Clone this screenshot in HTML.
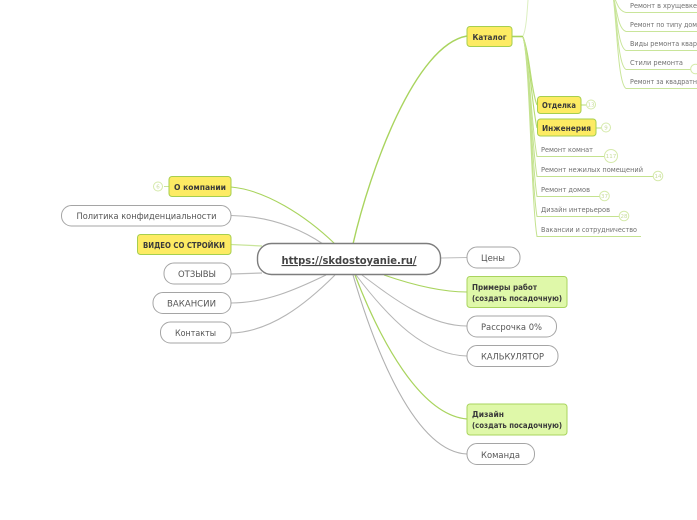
<!DOCTYPE html>
<html><head><meta charset="utf-8"><style>
html,body{margin:0;padding:0;background:#fff}
svg{display:block}
text{font-family:"DejaVu Sans","Liberation Sans",sans-serif;fill:#444}
.w{fill:#fff;stroke:#a5a5a5;stroke-width:1}
.y{fill:#fdeb63;stroke:#a6cf4e;stroke-width:1}
.g{fill:#dff8a9;stroke:#a9d45e;stroke-width:1}
.n{font-size:8.6px;fill:#555}
.b{font-size:8px;font-weight:bold;fill:#3a3a3a}
.s{font-size:7px;fill:#707070}
.c{fill:#fff;stroke:#d5eaaa;stroke-width:1}
.ct{font-size:5.5px;fill:#c8dc9c;text-anchor:middle}
</style></head><body>
<svg width="697" height="520" viewBox="0 0 697 520" xmlns="http://www.w3.org/2000/svg">
<g fill="none">
<!-- green main -->
<path d="M353 244C370 170 415 45 467 36" stroke="#a9d45e" stroke-width="1.4"/>
<path d="M335 244C305 215 265 190 231 187" stroke="#a9d45e" stroke-width="1.1"/>
<path d="M262 246L231 244.500" stroke="#c9e59a" stroke-width="1.2"/>
<path d="M384 275C410 284 440 292 467 292" stroke="#a9d45e" stroke-width="1.1"/>
<path d="M355 275C380 340 420 415 467 419" stroke="#a9d45e" stroke-width="1.2"/>
<!-- grey -->
<path d="M323 244C295 225 265 216 231 215.500" stroke="#b5b5b5" stroke-width="1.1"/>
<path d="M262 273L231 274" stroke="#bdbdbd" stroke-width="1.2"/>
<path d="M326 275C295 290 265 303 231 303" stroke="#b5b5b5" stroke-width="1.1"/>
<path d="M335 275C305 305 270 332 231 333" stroke="#b5b5b5" stroke-width="1.1"/>
<path d="M441 258L467 257.500" stroke="#bdbdbd" stroke-width="1"/>
<path d="M362 275C395 300 430 326 467 326" stroke="#b5b5b5" stroke-width="1"/>
<path d="M356 275C390 320 425 355 467 356" stroke="#b5b5b5" stroke-width="1"/>
<path d="M353 275C375 350 415 452 467 454" stroke="#b0b0b0" stroke-width="1.1"/>
<!-- catalog branches -->
<path d="M512 36.500H523" stroke="#a9d45e" stroke-width="1.6"/>
<path d="M523 36C526 30 527 15 528 0" stroke="#dcefc0" stroke-width="1"/>
<path d="M523 37C530 55 531 90 537 105" stroke="#b6dc74" stroke-width="1.1"/>
<path d="M523 37C530 55 531 100 537 128" stroke="#b6dc74" stroke-width="1.1"/>
<path d="M523 37C530 60 531 125 537 156.500H604" stroke="#c4e28f" stroke-width="1"/>
<path d="M523 37C530 60 531 140 537 176.500H653" stroke="#c4e28f" stroke-width="1"/>
<path d="M523 37C530 60 531 160 537 196.500H600" stroke="#c4e28f" stroke-width="1"/>
<path d="M523 37C530 60 531 180 537 216.500H619" stroke="#c4e28f" stroke-width="1"/>
<path d="M523 37C530 60 531 200 537 236.500H641" stroke="#c4e28f" stroke-width="1"/>
<!-- upper right branches -->
<path d="M613 -5C617 2 618 11 626 12.500H697" stroke="#c9e59a"/>
<path d="M613 -5C617 10 618 29 626 31.500H697" stroke="#c9e59a"/>
<path d="M613 -5C617 15 618 47 626 50.500H697" stroke="#c9e59a"/>
<path d="M613 -5C617 20 618 65 626 69.500H691" stroke="#c9e59a"/>
<path d="M613 -5C617 25 618 84 626 88.500H697" stroke="#c9e59a"/>
<path d="M581 105H586M596 128H601" stroke="#b6dc74"/>
<path d="M164 186.500H169" stroke="#c9e59a"/>
</g>
<!-- center -->
<rect x="257.500" y="243.500" width="183" height="31" rx="14" fill="#fff" stroke="#7d7d7d" stroke-width="1.4"/>
<text x="349" y="264" text-anchor="middle" textLength="135" lengthAdjust="spacingAndGlyphs" style="font-size:11px;font-weight:bold;text-decoration:underline;fill:#444">https://skdostoyanie.ru/</text>
<!-- left -->
<rect class="y" x="169" y="176.500" width="62" height="20" rx="3"/>
<text class="b" x="174" y="190" textLength="52" lengthAdjust="spacingAndGlyphs">О компании</text>
<circle class="c" cx="158" cy="186.500" r="4.500"/><text class="ct" x="158" y="188.500">6</text>
<rect class="w" x="61.500" y="205.500" width="169.500" height="20.500" rx="10"/>
<text class="n" x="76.500" y="219" textLength="140" lengthAdjust="spacingAndGlyphs">Политика конфиденциальности</text>
<rect class="y" x="137.500" y="234.500" width="93.500" height="20" rx="3"/>
<text class="b" x="143" y="248" textLength="82" lengthAdjust="spacingAndGlyphs">ВИДЕО СО СТРОЙКИ</text>
<rect class="w" x="164" y="263" width="67" height="21" rx="10"/>
<text class="n" x="178" y="277" textLength="38" lengthAdjust="spacingAndGlyphs">ОТЗЫВЫ</text>
<rect class="w" x="153" y="292.500" width="78" height="21" rx="10"/>
<text class="n" x="167" y="306.500" textLength="49" lengthAdjust="spacingAndGlyphs">ВАКАНСИИ</text>
<rect class="w" x="160.500" y="322" width="70.500" height="21" rx="10"/>
<text class="n" x="175" y="336" textLength="41" lengthAdjust="spacingAndGlyphs">Контакты</text>
<!-- right -->
<rect class="w" x="467" y="247" width="53" height="21" rx="10"/>
<text class="n" x="481" y="261" textLength="24" lengthAdjust="spacingAndGlyphs">Цены</text>
<rect class="g" x="467" y="276.500" width="100" height="31" rx="3"/>
<text class="b" x="472" y="290" textLength="65" lengthAdjust="spacingAndGlyphs">Примеры работ</text>
<text class="b" x="472" y="301" textLength="90" lengthAdjust="spacingAndGlyphs">(создать посадочную)</text>
<rect class="w" x="467" y="316" width="89.500" height="21" rx="10"/>
<text class="n" x="481" y="330" textLength="61" lengthAdjust="spacingAndGlyphs">Рассрочка 0%</text>
<rect class="w" x="467" y="345.500" width="91" height="21" rx="10"/>
<text class="n" x="481" y="359.500" textLength="63" lengthAdjust="spacingAndGlyphs">КАЛЬКУЛЯТОР</text>
<rect class="g" x="467" y="404" width="100" height="31" rx="3"/>
<text class="b" x="472" y="417" textLength="32" lengthAdjust="spacingAndGlyphs">Дизайн</text>
<text class="b" x="472" y="428" textLength="90" lengthAdjust="spacingAndGlyphs">(создать посадочную)</text>
<rect class="w" x="467" y="443.500" width="67.500" height="21" rx="10"/>
<text class="n" x="481" y="458" textLength="39" lengthAdjust="spacingAndGlyphs">Команда</text>
<!-- catalog -->
<rect class="y" x="467" y="26.500" width="45" height="20" rx="3"/>
<text class="b" x="472.500" y="40" textLength="34" lengthAdjust="spacingAndGlyphs">Каталог</text>
<rect class="y" x="537.500" y="96.500" width="43.500" height="17" rx="3"/>
<text class="b" x="542" y="108" textLength="34" lengthAdjust="spacingAndGlyphs">Отделка</text>
<circle class="c" cx="591" cy="104.500" r="4.500"/><text class="ct" x="591" y="106.500">13</text>
<rect class="y" x="537.500" y="119" width="58.500" height="17" rx="3"/>
<text class="b" x="542" y="131" textLength="49" lengthAdjust="spacingAndGlyphs">Инженерия</text>
<circle class="c" cx="606" cy="127.500" r="4.500"/><text class="ct" x="606" y="129.500">9</text>
<text class="s" x="541" y="152" textLength="52" lengthAdjust="spacingAndGlyphs">Ремонт комнат</text>
<circle class="c" cx="611" cy="156" r="6.500"/><text class="ct" x="611" y="158">117</text>
<text class="s" x="541" y="172" textLength="102" lengthAdjust="spacingAndGlyphs">Ремонт нежилых помещений</text>
<circle class="c" cx="658" cy="176" r="4.800"/><text class="ct" x="658" y="178">14</text>
<text class="s" x="541" y="192" textLength="49" lengthAdjust="spacingAndGlyphs">Ремонт домов</text>
<circle class="c" cx="604.500" cy="196" r="4.800"/><text class="ct" x="604.500" y="198">37</text>
<text class="s" x="541" y="212" textLength="69" lengthAdjust="spacingAndGlyphs">Дизайн интерьеров</text>
<circle class="c" cx="624" cy="216" r="4.800"/><text class="ct" x="624" y="218">28</text>
<text class="s" x="541" y="232" textLength="96" lengthAdjust="spacingAndGlyphs">Вакансии и сотрудничество</text>
<!-- upper right -->
<text class="s" x="630" y="8" textLength="67" lengthAdjust="spacingAndGlyphs">Ремонт в хрущевке</text>
<text class="s" x="630" y="27" textLength="67" lengthAdjust="spacingAndGlyphs">Ремонт по типу дом</text>
<text class="s" x="630" y="46" textLength="67" lengthAdjust="spacingAndGlyphs">Виды ремонта квар</text>
<text class="s" x="630" y="65" textLength="53" lengthAdjust="spacingAndGlyphs">Стили ремонта</text>
<circle class="c" cx="695.500" cy="69" r="4.800"/>
<text class="s" x="630" y="84" textLength="67" lengthAdjust="spacingAndGlyphs">Ремонт за квадратн</text>
</svg>
</body></html>
